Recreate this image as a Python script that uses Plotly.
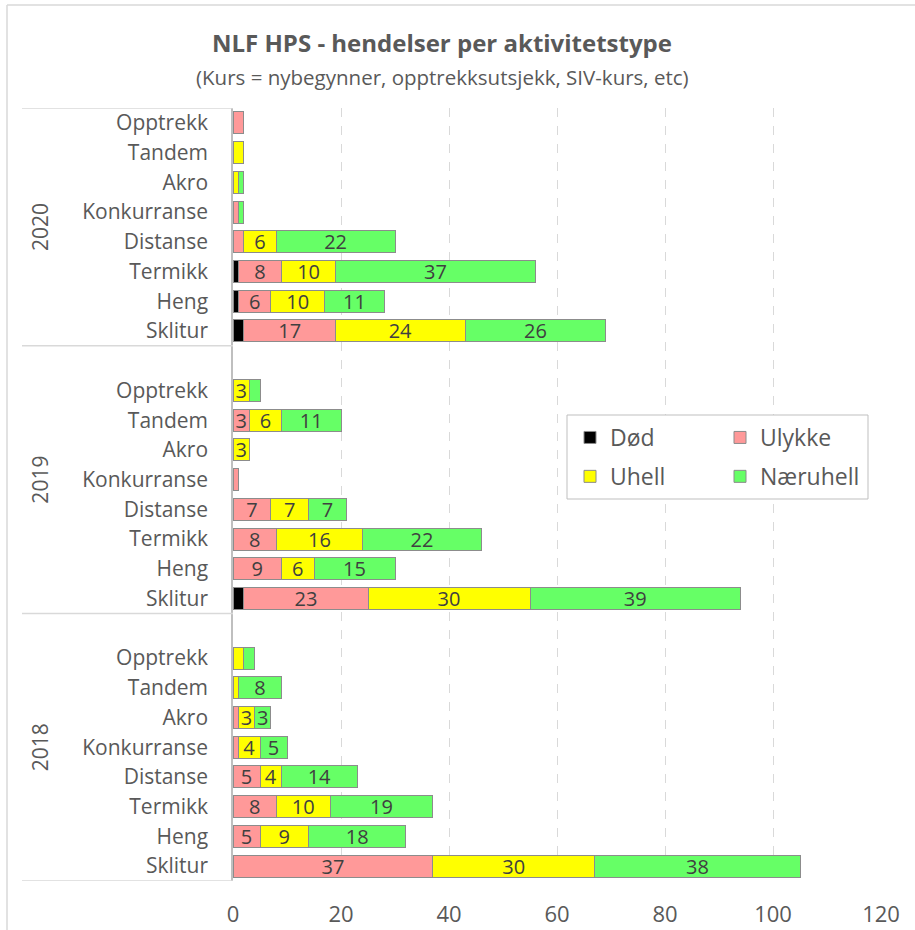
import plotly.graph_objects as go

# ---------------- data ----------------
years = ["2018", "2019", "2020"]
categories = ["Sklitur", "Heng", "Termikk", "Distanse", "Konkurranse", "Akro", "Tandem", "Opptrekk"]
series_names = ["Død", "Ulykke", "Uhell", "Næruhell"]
series_colors = ["#000000", "#FF9999", "#FFFF00", "#66FF66"]

# values per category (order as in `categories`)
dod_2018 = [0, 0, 0, 0, 0, 0, 0, 0]
ulykke_2018 = [37, 5, 8, 5, 1, 1, 0, 0]
uhell_2018 = [30, 9, 10, 4, 4, 3, 1, 2]
naeruhell_2018 = [38, 18, 19, 14, 5, 3, 8, 2]

dod_2019 = [2, 0, 0, 0, 0, 0, 0, 0]
ulykke_2019 = [23, 9, 8, 7, 1, 0, 3, 0]
uhell_2019 = [30, 6, 16, 7, 0, 3, 6, 3]
naeruhell_2019 = [39, 15, 22, 7, 0, 0, 11, 2]

dod_2020 = [2, 1, 1, 0, 0, 0, 0, 0]
ulykke_2020 = [17, 6, 8, 2, 1, 0, 0, 2]
uhell_2020 = [24, 10, 10, 6, 0, 1, 2, 0]
naeruhell_2020 = [26, 11, 37, 22, 1, 1, 0, 0]

x_ticks = [0, 20, 40, 60, 80, 100, 120]

data = {
    "Død": [dod_2018, dod_2019, dod_2020],
    "Ulykke": [ulykke_2018, ulykke_2019, ulykke_2020],
    "Uhell": [uhell_2018, uhell_2019, uhell_2020],
    "Næruhell": [naeruhell_2018, naeruhell_2019, naeruhell_2020],
}

# ---------------- layout helpers ----------------
W, H = 915, 930
L, R, T, B = 233, 34, 108, 49
PW, PH = W - L - R, H - T - B
SLOTS = len(categories) + 1  # one spacer slot per year group


def px_x(p):
    return (p - L) / PW


def px_y(p):
    return (H - B - p) / PH


def ypos(g, c):
    return g * SLOTS + c


GRAY_TXT = "#595959"
FONT = "'Open Sans', Lato, sans-serif"

fig = go.Figure()
legend_of = {"Død": "legend", "Uhell": "legend", "Ulykke": "legend2", "Næruhell": "legend2"}
for name, color in zip(series_names, series_colors):
    xs, ys, txt = [], [], []
    for g, vals in enumerate(data[name]):
        for c, v in enumerate(vals):
            xs.append(v)
            ys.append(ypos(g, c))
            txt.append(str(v) if v >= 3 else "")
    fig.add_trace(go.Bar(
        name=name, x=xs, y=ys, orientation="h",
        marker=dict(color=color, line=dict(color="#8c8c8c", width=1)),
        text=txt, textposition="inside", insidetextanchor="middle", textangle=0,
        constraintext="none", cliponaxis=False,
        textfont=dict(size=20, color="#404040", family=FONT),
        legend=legend_of[name], legendgroup=name,
        hovertemplate="%{x}<extra>" + name + "</extra>",
    ))

tickvals = [ypos(g, c) for g in range(len(years)) for c in range(len(categories))]
ticktext = [categories[c] for g in range(len(years)) for c in range(len(categories))]
ymin, ymax = -0.5, ypos(len(years) - 1, len(categories) - 1) + 0.5

shapes = []
# group divider lines in the category table
for yv in [ymin] + [g * SLOTS + len(categories) + 0.5 for g in range(len(years) - 1)] + [ymax]:
    shapes.append(dict(type="line", xref="paper", yref="y", x0=px_x(22), x1=0, y0=yv, y1=yv,
                       line=dict(color="#d9d9d9", width=1.5)))
# outer chart border (top + left visible)
shapes.append(dict(type="line", xref="paper", yref="paper", x0=px_x(7), x1=px_x(W + 5),
                   y0=px_y(5), y1=px_y(5), line=dict(color="#d9d9d9", width=1.5)))
shapes.append(dict(type="line", xref="paper", yref="paper", x0=px_x(7), x1=px_x(7),
                   y0=px_y(5), y1=px_y(H + 5), line=dict(color="#d9d9d9", width=1.5)))
# legend box
shapes.append(dict(type="rect", xref="paper", yref="paper", x0=px_x(567), x1=px_x(868),
                   y0=px_y(415), y1=px_y(499), fillcolor="white",
                   line=dict(color="#bfbfbf", width=1), layer="above"))

annotations = []
for g, yr in enumerate(years):
    y0 = ymin if g == 0 else g * SLOTS - 0.5
    y1 = g * SLOTS + len(categories) + 0.5 if g < len(years) - 1 else ymax
    annotations.append(dict(text=yr, xref="paper", yref="y", x=px_x(40), y=(y0 + y1) / 2,
                            xanchor="center", yanchor="middle",
                            textangle=-90, showarrow=False,
                            font=dict(size=21, color=GRAY_TXT, family=FONT)))
annotations.append(dict(text="(Kurs = nybegynner, opptrekksutsjekk, SIV-kurs, etc)",
                        xref="paper", yref="paper", x=px_x(442), y=px_y(77),
                        xanchor="center", yanchor="middle",
                        showarrow=False, font=dict(size=20.5, color=GRAY_TXT, family=FONT)))

legend_common = dict(orientation="v", traceorder="grouped", tracegroupgap=6,
                     bgcolor="rgba(0,0,0,0)", borderwidth=0,
                     font=dict(size=23, color=GRAY_TXT, family=FONT),
                     xanchor="left", yanchor="top", itemclick=False, itemdoubleclick=False)

fig.update_layout(
    width=W, height=H,
    margin=dict(l=L, r=R, t=T, b=B, autoexpand=False),
    paper_bgcolor="white", plot_bgcolor="white",
    barmode="stack", bargap=0.26,
    font=dict(family=FONT, color=GRAY_TXT),
    title=dict(text="<b>NLF HPS - hendelser per aktivitetstype</b>", x=442 / W, xanchor="center",
               y=1 - 44 / H, yanchor="middle", yref="container",
               font=dict(size=24, color=GRAY_TXT, family=FONT)),
    xaxis=dict(range=[0, 120], tickvals=x_ticks, showgrid=True, gridcolor="#d9d9d9",
               griddash="dash", gridwidth=1, zeroline=False, showline=False, ticks="",
               ticklabelstandoff=18, tickfont=dict(size=22, color=GRAY_TXT, family=FONT),
               fixedrange=True),
    yaxis=dict(range=[ymin, ymax], tickvals=tickvals, ticktext=ticktext, showgrid=False,
               zeroline=False, showline=True, linecolor="#bfbfbf", linewidth=1.5, ticks="",
               ticklabelstandoff=19, tickfont=dict(size=21, color=GRAY_TXT, family=FONT),
               fixedrange=True),
    legend=dict(x=px_x(570), y=px_y(416), **legend_common),
    legend2=dict(x=px_x(720), y=px_y(416), **legend_common),
    shapes=shapes, annotations=annotations,
)

fig.write_html("out.html", config={"displayModeBar": False},
               post_script="document.body.style.margin='0';")
